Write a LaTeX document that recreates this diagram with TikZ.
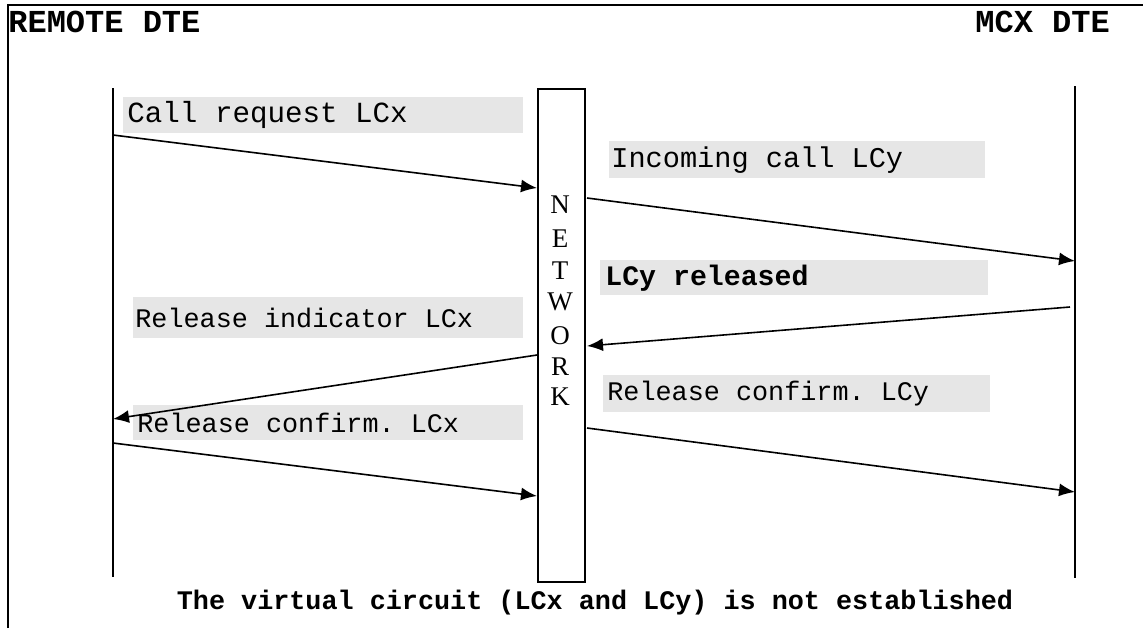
\documentclass[tikz,border=0pt]{standalone}
\usepackage{fontspec}
\setmainfont{Liberation Serif}
\setmonofont{Liberation Mono}
\usetikzlibrary{arrows.meta}
\definecolor{lblgray}{RGB}{230,230,230}
\begin{document}
\begin{tikzpicture}[x=0.5pt,y=-0.5pt,
  lbl/.style={fill=lblgray, anchor=north west, inner sep=0pt, font=\ttfamily\fontsize{13.4}{15}\selectfont},
  msg/.style={line width=0.8pt, -{Latex[length=8pt,width=6.5pt]}},
  life/.style={line width=1pt},
  title/.style={anchor=base west, inner sep=0pt, font=\ttfamily\bfseries\fontsize{16}{18}\selectfont},
  net/.style={inner sep=0pt, font=\fontsize{13.5}{15}\selectfont}]
\useasboundingbox (0,0) rectangle (1147,628);
% frame
\draw[line width=1pt] (8,628) -- (8,5) -- (1143,5);
% titles
\node[title] (rt) at (8,32) {REMOTE DTE};
\node[title] (mt) at (975,32) {MCX DTE};
% lifelines
\coordinate (L1) at (113,88);
\coordinate (L2) at (113,577);
\coordinate (R1) at (1075,86);
\coordinate (R2) at (1075,578);
\draw[life] (L1) -- (L2);
\draw[life] (R1) -- (R2);
% network box
\node[draw, line width=1pt, minimum width=23.5pt, minimum height=246.5pt, inner sep=0pt, anchor=north west] (nw) at (537,88) {};
\foreach \l/\y [count=\i] in {N/205,E/239,T/271,W/302,O/336,R/367,K/397}
  \node[net] (n\i) at (560,\y) {\l};
% labels (gray boxes)
\node[lbl, minimum height=18pt, font=\ttfamily\fontsize{14.6}{16}\selectfont] (g1) at (123,97) {\makebox[200pt][l]{\hspace*{2pt}Call request LCx}};
\node[lbl, minimum height=18.5pt, font=\ttfamily\fontsize{14.3}{16}\selectfont] (g2) at (609,141) {\makebox[188pt][l]{\hspace*{1pt}Incoming call LCy}};
\node[lbl, minimum height=17.5pt, font=\ttfamily\bfseries\fontsize{14.1}{16}\selectfont] (g3) at (600,260) {\makebox[194pt][l]{\hspace*{2.5pt}LCy released}};
\node[lbl, minimum height=20.5pt] (g4) at (133,297) {\makebox[195pt][l]{\hspace*{1pt}Release indicator LCx}};
\node[lbl, minimum height=18.5pt] (g5) at (603,375) {\makebox[193.5pt][l]{\hspace*{2pt}Release confirm. LCy}};
\node[lbl, minimum height=17.5pt] (g6) at (133,405) {\makebox[195pt][l]{\hspace*{2pt}Release confirm. LCx}};
% message endpoints
\coordinate (a1s) at (113,135); \coordinate (a1e) at (537,188);
\coordinate (a2s) at (587,198); \coordinate (a2e) at (1075,261);
\coordinate (a3s) at (1070,307); \coordinate (a3e) at (587,346);
\coordinate (a4s) at (537,355); \coordinate (a4e) at (113,419);
\coordinate (a5s) at (113,443); \coordinate (a5e) at (537,496);
\coordinate (a6s) at (587,428); \coordinate (a6e) at (1075,492);
\draw[msg] (a1s) -- (a1e);
\draw[msg] (a2s) -- (a2e);
\draw[msg] (a3s) -- (a3e);
\draw[msg] (a4s) -- (a4e);
\draw[msg] (a5s) -- (a5e);
\draw[msg] (a6s) -- (a6e);
% bottom caption
\node[inner sep=0pt, font=\ttfamily\bfseries\fontsize{13.4}{15}\selectfont] (cap) at (595,603) {The virtual circuit (LCx and LCy) is not established};
\end{tikzpicture}
\end{document}
